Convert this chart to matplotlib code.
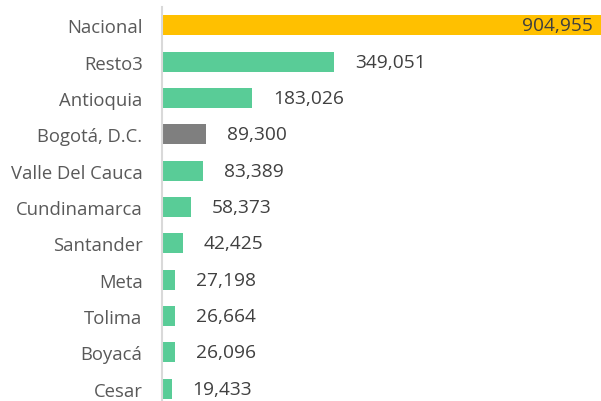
import matplotlib.pyplot as plt

categories = ['Nacional', 'Resto3', 'Antioquia', 'Bogotá, D.C.', 'Valle Del Cauca',
              'Cundinamarca', 'Santander', 'Meta', 'Tolima', 'Boyacá', 'Cesar']
values = [904955, 349051, 183026, 89300, 83389, 58373, 42425, 27198, 26664, 26096, 19433]
colors = ['#FFC000', '#59CC97', '#59CC97', '#7F7F7F', '#59CC97', '#59CC97',
          '#59CC97', '#59CC97', '#59CC97', '#59CC97', '#59CC97']

plt.rcParams['font.family'] = ['Open Sans', 'DejaVu Sans']

fig = plt.figure(figsize=(6.01, 4.02), dpi=100)
ax = fig.add_axes([162 / 601, -6 / 402, 439 / 601, 400 / 402])

ypos = list(range(len(categories)))
ax.barh(ypos, values, height=0.55, color=colors)
ax.set_ylim(len(categories) - 0.5, -0.5)
ax.set_xlim(0, 890500)

ax.set_yticks(ypos)
ax.set_yticklabels(categories, fontsize=13.3, color='#595959')
ax.tick_params(axis='y', length=0, pad=14)
ax.set_xticks([])

for s in ['top', 'right', 'bottom']:
    ax.spines[s].set_visible(False)
ax.spines['left'].set_color('#D9D9D9')
ax.spines['left'].set_linewidth(1.5)

for i, v in enumerate(values):
    label = f'{v:,}'
    if i == 0:
        ax.annotate(label, (v, i), xytext=(-15, 0), textcoords='offset pixels',
                    ha='right', va='center', fontsize=13.8, color='#404040',
                    annotation_clip=False)
    else:
        ax.annotate(label, (v, i), xytext=(21, 0), textcoords='offset pixels',
                    ha='left', va='center', fontsize=13.8, color='#404040')

fig.savefig('out.png', dpi=100)
